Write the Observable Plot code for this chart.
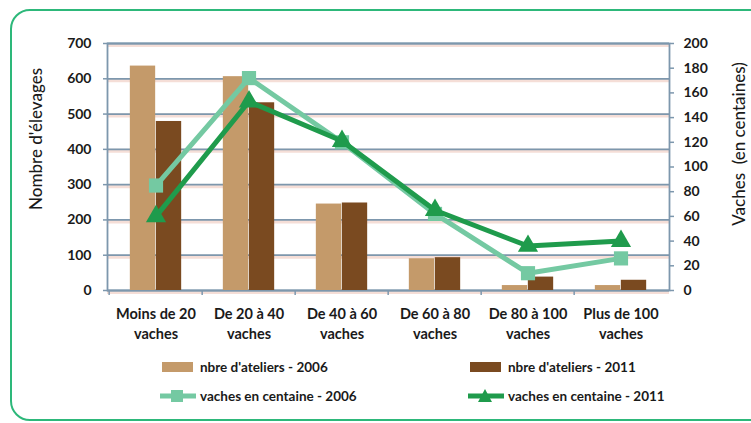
<!DOCTYPE html>
<html><head><meta charset="utf-8">
<script src="https://cdn.jsdelivr.net/npm/d3@7"></script>
<script src="https://cdn.jsdelivr.net/npm/@observablehq/plot@0.6"></script>
<style>
body{margin:0;background:#fff;font-family:Lato,"Open Sans",sans-serif;}
#wrap{position:relative;width:751px;height:423px;overflow:hidden;}
#border{position:absolute;left:10px;top:9px;width:790px;height:412px;border:2.5px solid #2DB87A;border-radius:20px;box-sizing:border-box;}
#chart{position:absolute;left:0;top:0;}
.title{position:absolute;font-size:17px;font-weight:500;color:#1a1a1a;white-space:pre;transform:translate(-50%,-50%) rotate(-90deg);}
#legend{position:absolute;left:0;top:350px;width:751px;height:60px;}
.leg{position:absolute;font-size:13.5px;color:#1a1a1a;display:flex;align-items:center;height:20px;}
.leg svg{margin-right:4px;}
</style></head><body>
<div id="wrap">
<div id="border"></div>
<div id="chart"></div>
<div class="title" style="left:35px;top:139px;">Nombre d'élevages</div>
<div class="title" style="left:738px;top:144px;">Vaches  (en centaines)</div>
<div id="legend"></div>
</div>
<script>
const categories = ["Moins de 20 vaches","De 20 à 40 vaches","De 40 à 60 vaches","De 60 à 80 vaches","De 80 à 100 vaches","Plus de 100 vaches"];
const tickLabels = ["Moins de 20\nvaches","De 20 à 40\nvaches","De 40 à 60\nvaches","De 60 à 80\nvaches","De 80 à 100\nvaches","Plus de 100\nvaches"];
const ateliers2006 = [636, 606, 245, 90, 14, 14];
const ateliers2011 = [479, 532, 248, 93, 38, 29];
const vaches2006 = [85, 172, 120, 62, 14, 26];
const vaches2011 = [60, 153, 121, 65, 36, 40];
const leftTicks = [0,100,200,300,400,500,600,700];
const rightTicks = [0,20,40,60,80,100,120,140,160,180,200];
const seriesNames = ["nbre d'ateliers - 2006","nbre d'ateliers - 2011","vaches en centaine - 2006","vaches en centaine - 2011"];

const C = {tan:"#C49A6A", brown:"#7A4A20", mint:"#74C9A2", green:"#1F9B4C", grid:"#7D97AD"};
const W=751,H=423,ML=107,MR=82,MT=43,MB=133;
const bw = (W-ML-MR)/categories.length;
const ratio = 700/200;
const data = categories.map((c,i)=>({c, a06:ateliers2006[i], a11:ateliers2011[i], v06:vaches2006[i]*ratio, v11:vaches2011[i]*ratio}));

const chart = Plot.plot({
  width:W, height:H, marginLeft:ML, marginRight:MR, marginTop:MT, marginBottom:MB,
  style:{fontFamily:"Lato, sans-serif", fontSize:"14.5px", color:"#1a1a1a", background:"transparent"},
  x:{type:"band", domain:categories, padding:0, label:null},
  y:{domain:[0,700], label:null},
  marks:[
    Plot.ruleY(leftTicks,{stroke:"#F5DED7", strokeWidth:4, dy:1.5}),
    Plot.ruleY(leftTicks,{stroke:C.grid, strokeWidth:1.8}),
    Plot.frame({stroke:C.grid, strokeWidth:1.8}),
    Plot.barY(data,{x:"c", y:"a06", fill:C.tan, insetLeft:bw/2-26, insetRight:bw/2}),
    Plot.barY(data,{x:"c", y:"a11", fill:C.brown, insetLeft:bw/2, insetRight:bw/2-26}),
    Plot.line(data,{x:"c", y:"v06", stroke:C.mint, strokeWidth:5}),
    Plot.dot(data,{x:"c", y:"v06", symbol:"square", r:8, fill:C.mint}),
    Plot.line(data,{x:"c", y:"v11", stroke:C.green, strokeWidth:5}),
    Plot.dot(data,{x:"c", y:"v11", symbol:"triangle", r:7.5, fill:C.green}),
    Plot.axisY(leftTicks,{anchor:"left", tickSize:4, tickPadding:12, stroke:C.grid, strokeWidth:1.5, fontWeight:"bold", fontSize:14}),
    Plot.axisY(rightTicks.map(v=>v*ratio),{anchor:"right", tickSize:4, tickPadding:10, stroke:C.grid, strokeWidth:1.5, tickFormat:d=>Math.round(d/ratio), fontWeight:"bold", fontSize:14}),
    Plot.axisX({tickSize:5, tickFormat:()=>"", dx:-bw/2, stroke:C.grid, strokeWidth:1.5}),
    Plot.axisX({tickSize:0, tickPadding:14, tickFormat:(d,i)=>tickLabels[categories.indexOf(d)], lineHeight:1.4, fontWeight:"bold", fontSize:14.5})
  ]
});
document.getElementById("chart").append(chart);

// legend
const leg = document.getElementById("legend");
function barSw(color){return `<svg width="34" height="12"><rect x="0" y="1" width="31" height="10" fill="${color}"/></svg>`;}
function lineSw(color, sym){
  const mk = sym==="square" ? `<rect x="11" y="1" width="12" height="12" fill="${color}"/>` : `<path d="M17,0 L24,13 L10,13 Z" fill="${color}"/>`;
  return `<svg width="36" height="14"><line x1="0" y1="7" x2="36" y2="7" stroke="${color}" stroke-width="5"/>${mk}</svg>`;
}
const items = [
  {x:162, y:7, sw:barSw(C.tan), t:seriesNames[0]},
  {x:470, y:7, sw:barSw(C.brown), t:seriesNames[1]},
  {x:160, y:36, sw:lineSw(C.mint,"square"), t:seriesNames[2]},
  {x:468, y:36, sw:lineSw(C.green,"triangle"), t:seriesNames[3]}
];
for (const it of items){
  const d = document.createElement("div");
  d.className="leg"; d.style.left=it.x+"px"; d.style.top=it.y+"px";
  d.innerHTML = it.sw + `<span style="font-weight:bold">${it.t}</span>`;
  leg.append(d);
}
</script>
</body></html>
